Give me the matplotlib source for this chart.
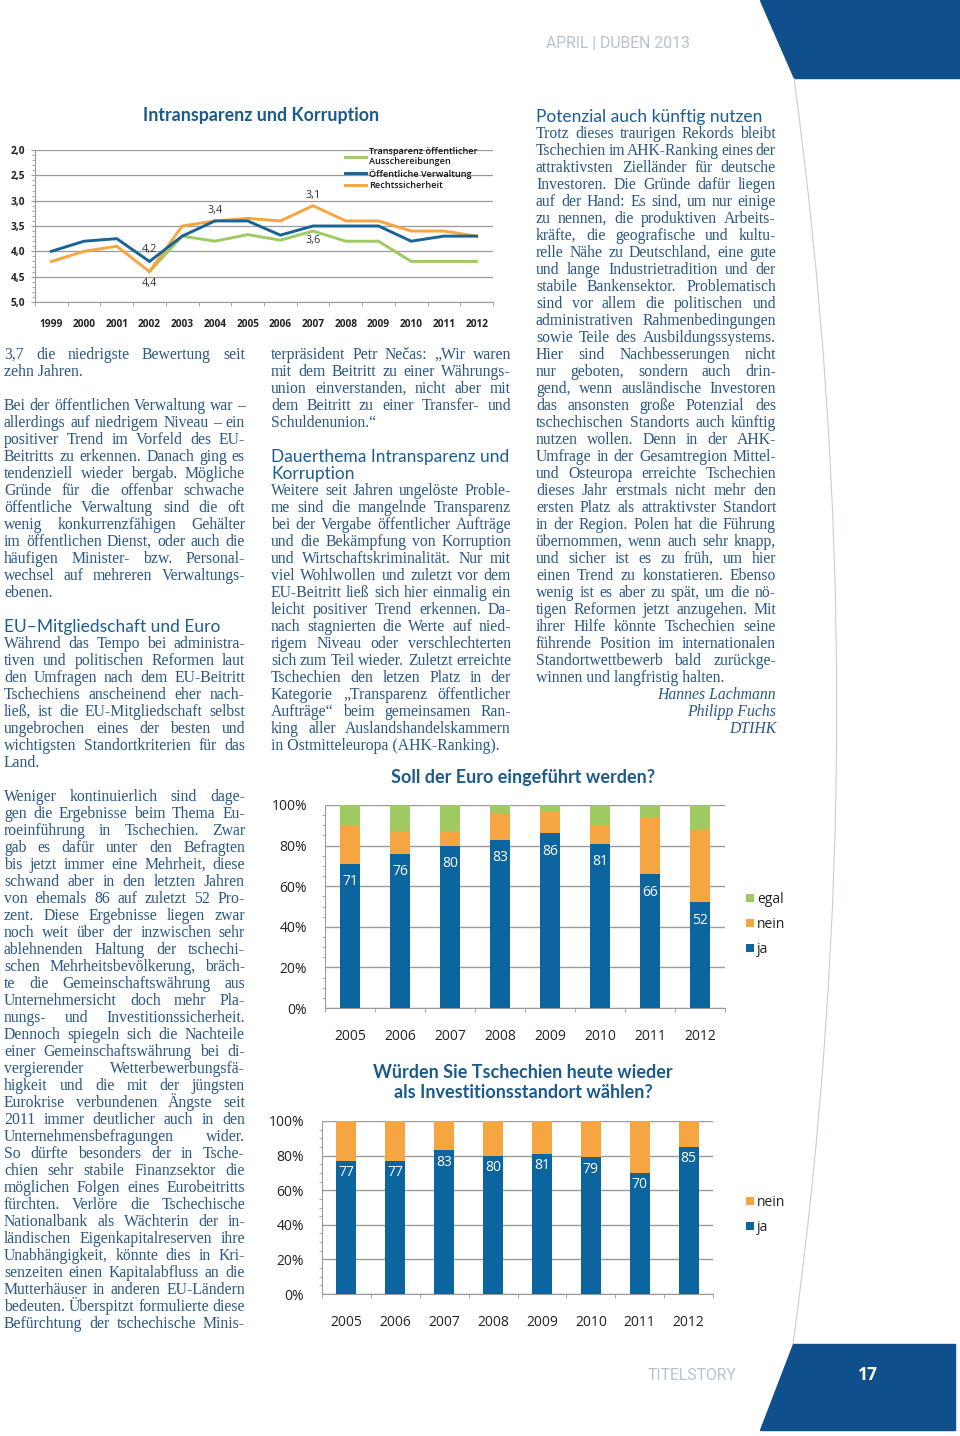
import numpy as np
import matplotlib
matplotlib.use("Agg")
import matplotlib.pyplot as plt
from matplotlib.patches import Polygon, PathPatch
from matplotlib.path import Path
from matplotlib.lines import Line2D
from matplotlib.ticker import FixedLocator, MultipleLocator

W, H = 960, 1436

# ---- data ----
line_years = ["1999", "2000", "2001", "2002", "2003", "2004", "2005",
              "2006", "2007", "2008", "2009", "2010", "2011", "2012"]
transparenz = [np.nan, np.nan, np.nan, 4.4, 3.7, 3.8, 3.67, 3.78, 3.6, 3.8, 3.8, 4.2, 4.2, 4.2]
verwaltung = [4.0, 3.8, 3.75, 4.2, 3.7, 3.4, 3.4, 3.68, 3.5, 3.5, 3.5, 3.8, 3.7, 3.7]
rechtssicherheit = [4.2, 4.0, 3.9, 4.4, 3.5, 3.4, 3.35, 3.4, 3.1, 3.4, 3.4, 3.6, 3.6, 3.7]
line_ticks = [2.0, 2.5, 3.0, 3.5, 4.0, 4.5, 5.0]

bar_years = ["2005", "2006", "2007", "2008", "2009", "2010", "2011", "2012"]
euro_ja = [71, 76, 80, 83, 86, 81, 66, 52]
euro_nein = [19, 11, 7, 13, 11, 9, 28, 36]
euro_egal = [10, 13, 13, 4, 3, 10, 6, 12]
invest_ja = [77, 77, 83, 80, 81, 79, 70, 85]
invest_nein = [23, 23, 17, 20, 19, 21, 30, 15]
pct_ticks = [0, 20, 40, 60, 80, 100]

GREEN = "#9fca62"
BLUE = "#0d65a0"
ORANGE = "#f5a642"
TITLE = "#1c5a8e"
TEXT = "#2a5784"
GRID = "#9a9a9a"
PAGEBLUE = "#0e4f8c"

CHART_FONT = ["Open Sans", "DejaVu Sans"]
HEAD_FONT = ["Lato", "DejaVu Sans"]
BODY_FONT = ["Liberation Serif", "DejaVu Serif"]

fig = plt.figure(figsize=(W / 100, H / 100), dpi=100)


def add_ax(left, top, right, bottom):
    return fig.add_axes([left / W, 1 - bottom / H, (right - left) / W, (bottom - top) / H])


def ftext(x, y, s, **kw):
    return fig.text(x / W, 1 - y / H, s, **kw)


# ---- page decoration ----
fig.patches.append(Polygon([(760 / W, 1), (1, 1), (1, 1 - 78 / H), (794 / W, 1 - 78 / H)],
                           closed=True, transform=fig.transFigure, color=PAGEBLUE))
fig.patches.append(Polygon([(793 / W, 1 - 1344 / H), (955 / W, 1 - 1344 / H),
                            (955 / W, 1 - 1430 / H), (760 / W, 1 - 1430 / H)],
                           closed=True, transform=fig.transFigure, color=PAGEBLUE))
arc = Path([(794 / W, 1 - 78 / H), (880 / W, 1 - 711 / H), (793 / W, 1 - 1344 / H)],
           [Path.MOVETO, Path.CURVE3, Path.CURVE3])
fig.patches.append(PathPatch(arc, transform=fig.transFigure, fill=False,
                             edgecolor="#c5ccd8", lw=0.8))

ftext(618, 44, "APRIL | DUBEN 2013", ha="center", va="center", fontsize=11.3,
      color="#b6c1d2", family=["Liberation Sans Narrow", "Roboto"])
ftext(692, 1375, "TITELSTORY", ha="center", va="center", fontsize=11.3,
      color="#b6c1d2", family=["Liberation Sans Narrow", "Roboto"])
ftext(868, 1375, "17", ha="center", va="center", fontsize=12.5, color="white",
      family=CHART_FONT, fontweight="bold")

# ---- line chart ----
ftext(261, 115, "Intransparenz und Korruption", ha="center", va="center",
      fontsize=12.8, color=TITLE, family=HEAD_FONT, fontweight="bold")
ax1 = add_ax(35, 150, 493, 302)
x = np.arange(len(line_years))
ax1.plot(x, transparenz, color=GREEN, lw=2.1, solid_joinstyle="miter")
ax1.plot(x, rechtssicherheit, color=ORANGE, lw=2.1, solid_joinstyle="miter")
ax1.plot(x, verwaltung, color="#1a6397", lw=2.1, solid_joinstyle="miter")
ax1.set_xlim(-0.5, len(line_years) - 0.5)
ax1.set_ylim(5.0, 2.0)
ax1.set_yticks(line_ticks)
ax1.set_yticklabels([f"{v:.1f}".replace(".", ",") for v in line_ticks])
ax1.yaxis.set_minor_locator(MultipleLocator(0.1))
ax1.set_xticks(x)
ax1.set_xticklabels(line_years)
ax1.xaxis.set_minor_locator(FixedLocator(np.arange(-0.5, len(line_years), 1.0)))
ax1.tick_params(axis="x", which="major", length=0, pad=12, labelsize=7.3, labelcolor="#222")
ax1.tick_params(axis="x", which="minor", length=3, color=GRID)
ax1.tick_params(axis="y", which="major", length=3, color=GRID, pad=4, labelsize=7.3, labelcolor="#222")
ax1.tick_params(axis="y", which="minor", length=2, color=GRID)
for lab in ax1.get_xticklabels() + ax1.get_yticklabels():
    lab.set_family(CHART_FONT)
    lab.set_fontweight("bold")
ax1.yaxis.grid(True, color=GRID, lw=0.9)
ax1.set_axisbelow(True)
for s in ["top", "right"]:
    ax1.spines[s].set_visible(False)
for s in ["left", "bottom"]:
    ax1.spines[s].set_color(GRID)

ann = dict(textcoords="offset pixels", ha="center", va="center", fontsize=7.8,
           color="#333", family=CHART_FONT)
ax1.annotate("4,2", (3, verwaltung[3]), xytext=(0, 12), **ann)
ax1.annotate("4,4", (3, rechtssicherheit[3]), xytext=(0, -12), **ann)
ax1.annotate("3,4", (5, verwaltung[5]), xytext=(0, 10), **ann)
ax1.annotate("3,1", (8, rechtssicherheit[8]), xytext=(0, 10), **ann)
ax1.annotate("3,6", (8, transparenz[8]), xytext=(0, -9), **ann)

handles = [Line2D([], [], color=GREEN, lw=2.1),
           Line2D([], [], color="#1a6397", lw=2.1),
           Line2D([], [], color=ORANGE, lw=2.1)]
labels = ["Transparenz öffentlicher\nAusschereibungen", "Öffentliche Verwaltung", "Rechtssicherheit"]
leg = ax1.legend(handles, labels, loc="upper left", bbox_to_anchor=(345 / W, 1 - 147 / H),
                 bbox_transform=fig.transFigure, frameon=False, fontsize=6.6,
                 handlelength=2.3, handletextpad=0.3, labelspacing=0.25,
                 borderpad=0, borderaxespad=0)
for t in leg.get_texts():
    t.set_family(CHART_FONT)
    t.set_color("#111")
    t.set_fontweight("semibold")


# ---- bar charts ----
def bar_chart(ax, series, width, offset):
    xb = np.arange(len(bar_years))
    bottom = np.zeros(len(bar_years))
    for vals, col, lab in series:
        ax.bar(xb, vals, width, bottom=bottom, color=col, label=lab, zorder=3)
        bottom += np.array(vals)
    for i, v in enumerate(series[0][0]):
        ax.annotate(str(v), (i, v), xytext=(0, -offset), textcoords="offset pixels",
                    ha="center", va="center", color="white", fontsize=10,
                    family=CHART_FONT, zorder=4)
    ax.set_xlim(-0.5, len(bar_years) - 0.5)
    ax.set_ylim(0, 100)
    ax.set_yticks(pct_ticks)
    ax.set_yticklabels([f"{v}%" for v in pct_ticks])
    ax.yaxis.set_minor_locator(MultipleLocator(5))
    ax.set_xticks(xb)
    ax.set_xticklabels(bar_years)
    ax.xaxis.set_minor_locator(FixedLocator(np.arange(-0.5, len(bar_years), 1.0)))
    ax.tick_params(axis="x", which="major", length=0, pad=15, labelsize=10, labelcolor="#222")
    ax.tick_params(axis="x", which="minor", length=3, color=GRID)
    ax.tick_params(axis="y", which="major", length=0, pad=13, labelsize=10, labelcolor="#222")
    ax.tick_params(axis="y", which="minor", length=2, color=GRID)
    for lab in ax.get_xticklabels() + ax.get_yticklabels():
        lab.set_family(CHART_FONT)
    ax.yaxis.grid(True, color=GRID, lw=1.0)
    ax.set_axisbelow(True)
    for s in ["top", "right"]:
        ax.spines[s].set_visible(False)
    for s in ["left", "bottom"]:
        ax.spines[s].set_color(GRID)


def bar_legend(ax, left, top):
    h, l = ax.get_legend_handles_labels()
    leg = ax.legend(h[::-1], l[::-1], loc="upper left", bbox_to_anchor=(left / W, 1 - top / H),
                    bbox_transform=fig.transFigure, frameon=False, fontsize=10,
                    handlelength=0.55, handleheight=0.55, handletextpad=0.25,
                    labelspacing=0.72, borderpad=0, borderaxespad=0)
    for t in leg.get_texts():
        t.set_family(CHART_FONT)
        t.set_color("#222")


ftext(523, 777, "Soll der Euro eingeführt werden?", ha="center", va="center",
      fontsize=13, color=TITLE, family=HEAD_FONT, fontweight="bold")
ax2 = add_ax(325, 805, 725, 1008)
bar_chart(ax2, [(euro_ja, BLUE, "ja"), (euro_nein, ORANGE, "nein"), (euro_egal, GREEN, "egal")],
          0.4, 18)
bar_legend(ax2, 746, 892)

ftext(523, 1073, "Würden Sie Tschechien heute wieder", ha="center", va="center",
      fontsize=13, color=TITLE, family=HEAD_FONT, fontweight="bold")
ftext(523, 1092, "als Investitionsstandort wählen?", ha="center", va="center",
      fontsize=13, color=TITLE, family=HEAD_FONT, fontweight="bold")
ax3 = add_ax(322, 1121, 713, 1294)
bar_chart(ax3, [(invest_ja, BLUE, "ja"), (invest_nein, ORANGE, "nein")], 0.41, 12)
bar_legend(ax3, 746, 1195)

# ---- body text ----
col1 = [
    ("j", "3,7 die niedrigste Bewertung seit"),
    ("l", "zehn Jahren."),
    ("", ""),
    ("j", "Bei der öffentlichen Verwaltung war –"),
    ("j", "allerdings auf niedrigem Niveau – ein"),
    ("j", "positiver Trend im Vorfeld des EU-"),
    ("j", "Beitritts zu erkennen. Danach ging es"),
    ("j", "tendenziell wieder bergab. Mögliche"),
    ("j", "Gründe für die offenbar schwache"),
    ("j", "öffentliche Verwaltung sind die oft"),
    ("j", "wenig konkurrenzfähigen Gehälter"),
    ("j", "im öffentlichen Dienst, oder auch die"),
    ("j", "häufigen Minister- bzw. Personal-"),
    ("j", "wechsel auf mehreren Verwaltungs-"),
    ("l", "ebenen."),
    ("", ""),
    ("h", "EU–Mitgliedschaft und Euro"),
    ("j", "Während das Tempo bei administra-"),
    ("j", "tiven und politischen Reformen laut"),
    ("j", "den Umfragen nach dem EU-Beitritt"),
    ("j", "Tschechiens anscheinend eher nach-"),
    ("j", "ließ, ist die EU-Mitgliedschaft selbst"),
    ("j", "ungebrochen eines der besten und"),
    ("j", "wichtigsten Standortkriterien für das"),
    ("l", "Land."),
    ("", ""),
    ("j", "Weniger kontinuierlich sind dage-"),
    ("j", "gen die Ergebnisse beim Thema Eu-"),
    ("j", "roeinführung in Tschechien. Zwar"),
    ("j", "gab es dafür unter den Befragten"),
    ("j", "bis jetzt immer eine Mehrheit, diese"),
    ("j", "schwand aber in den letzten Jahren"),
    ("j", "von ehemals 86 auf zuletzt 52 Pro-"),
    ("j", "zent. Diese Ergebnisse liegen zwar"),
    ("j", "noch weit über der inzwischen sehr"),
    ("j", "ablehnenden Haltung der tschechi-"),
    ("j", "schen Mehrheitsbevölkerung, bräch-"),
    ("j", "te die Gemeinschaftswährung aus"),
    ("j", "Unternehmersicht doch mehr Pla-"),
    ("j", "nungs- und Investitionssicherheit."),
    ("j", "Dennoch spiegeln sich die Nachteile"),
    ("j", "einer Gemeinschaftswährung bei di-"),
    ("j", "vergierender Wetterbewerbungsfä-"),
    ("j", "higkeit und die mit der jüngsten"),
    ("j", "Eurokrise verbundenen Ängste seit"),
    ("j", "2011 immer deutlicher auch in den"),
    ("j", "Unternehmensbefragungen wider."),
    ("j", "So dürfte besonders der in Tsche-"),
    ("j", "chien sehr stabile Finanzsektor die"),
    ("j", "möglichen Folgen eines Eurobeitritts"),
    ("j", "fürchten. Verlöre die Tschechische"),
    ("j", "Nationalbank als Wächterin der in-"),
    ("j", "ländischen Eigenkapitalreserven ihre"),
    ("j", "Unabhängigkeit, könnte dies in Kri-"),
    ("j", "senzeiten einen Kapitalabfluss an die"),
    ("j", "Mutterhäuser in anderen EU-Ländern"),
    ("j", "bedeuten. Überspitzt formulierte diese"),
    ("j", "Befürchtung der tschechische Minis-"),
]

col2 = [
    ("j", "terpräsident Petr Nečas: „Wir waren"),
    ("j", "mit dem Beitritt zu einer Währungs-"),
    ("j", "union einverstanden, nicht aber mit"),
    ("j", "dem Beitritt zu einer Transfer- und"),
    ("l", "Schuldenunion.“"),
    ("", ""),
    ("h", "Dauerthema Intransparenz und"),
    ("h", "Korruption"),
    ("j", "Weitere seit Jahren ungelöste Proble-"),
    ("j", "me sind die mangelnde Transparenz"),
    ("j", "bei der Vergabe öffentlicher Aufträge"),
    ("j", "und die Bekämpfung von Korruption"),
    ("j", "und Wirtschaftskriminalität. Nur mit"),
    ("j", "viel Wohlwollen und zuletzt vor dem"),
    ("j", "EU-Beitritt ließ sich hier einmalig ein"),
    ("j", "leicht positiver Trend erkennen. Da-"),
    ("j", "nach stagnierten die Werte auf nied-"),
    ("j", "rigem Niveau oder verschlechterten"),
    ("j", "sich zum Teil wieder. Zuletzt erreichte"),
    ("j", "Tschechien den letzen Platz in der"),
    ("j", "Kategorie „Transparenz öffentlicher"),
    ("j", "Aufträge“ beim gemeinsamen Ran-"),
    ("j", "king aller Auslandshandelskammern"),
    ("l", "in Ostmitteleuropa (AHK-Ranking)."),
]

col3 = [
    ("h", "Potenzial auch künftig nutzen"),
    ("j", "Trotz dieses traurigen Rekords bleibt"),
    ("j", "Tschechien im AHK-Ranking eines der"),
    ("j", "attraktivsten Zielländer für deutsche"),
    ("j", "Investoren. Die Gründe dafür liegen"),
    ("j", "auf der Hand: Es sind, um nur einige"),
    ("j", "zu nennen, die produktiven Arbeits-"),
    ("j", "kräfte, die geografische und kultu-"),
    ("j", "relle Nähe zu Deutschland, eine gute"),
    ("j", "und lange Industrietradition und der"),
    ("j", "stabile Bankensektor. Problematisch"),
    ("j", "sind vor allem die politischen und"),
    ("j", "administrativen Rahmenbedingungen"),
    ("j", "sowie Teile des Ausbildungssystems."),
    ("j", "Hier sind Nachbesserungen nicht"),
    ("j", "nur geboten, sondern auch drin-"),
    ("j", "gend, wenn ausländische Investoren"),
    ("j", "das ansonsten große Potenzial des"),
    ("j", "tschechischen Standorts auch künftig"),
    ("j", "nutzen wollen. Denn in der AHK-"),
    ("j", "Umfrage in der Gesamtregion Mittel-"),
    ("j", "und Osteuropa erreichte Tschechien"),
    ("j", "dieses Jahr erstmals nicht mehr den"),
    ("j", "ersten Platz als attraktivster Standort"),
    ("j", "in der Region. Polen hat die Führung"),
    ("j", "übernommen, wenn auch sehr knapp,"),
    ("j", "und sicher ist es zu früh, um hier"),
    ("j", "einen Trend zu konstatieren. Ebenso"),
    ("j", "wenig ist es aber zu spät, um die nö-"),
    ("j", "tigen Reformen jetzt anzugehen. Mit"),
    ("j", "ihrer Hilfe könnte Tschechien seine"),
    ("j", "führende Position im internationalen"),
    ("j", "Standortwettbewerb bald zurückge-"),
    ("l", "winnen und langfristig halten."),
    ("r", "Hannes Lachmann"),
    ("r", "Philipp Fuchs"),
    ("r", "DTIHK"),
]

renderer = fig.canvas.get_renderer()
body = dict(family=BODY_FONT, fontsize=11.3, color=TEXT, va="baseline")
head = dict(family=HEAD_FONT, fontsize=12.5, color="#1a5d95", va="baseline")


def set_column(lines, x0, x1, y0, pitch=17):
    for k, (kind, s) in enumerate(lines):
        base = y0 + k * pitch + 5
        if kind == "h":
            ftext(x0, base + 1, s, ha="left", **head)
        elif kind == "l":
            ftext(x0, base, s, ha="left", **body)
        elif kind == "r":
            ftext(x1, base, s, ha="right", style="italic", **body)
        elif kind == "j":
            words = s.split()
            texts = [ftext(0, base, w, ha="left", **body) for w in words]
            widths = [t.get_window_extent(renderer).width for t in texts]
            total = sum(widths)
            gap = (x1 - x0 - total) / max(len(words) - 1, 1)
            if gap < 2.0:
                # line too long for the column: shrink the font a little
                scale = (x1 - x0 - 2.0 * (len(words) - 1)) / total
                for t in texts:
                    t.set_fontsize(body["fontsize"] * scale)
                widths = [w * scale for w in widths]
                gap = 2.0
            pos = x0
            for t, w in zip(texts, widths):
                t.set_x(pos / W)
                pos += w + gap


set_column(col1, 4, 245, 354)
set_column(col2, 271, 511, 354)
set_column(col3, 536, 776, 116)

fig.savefig("out.png", dpi=100)
